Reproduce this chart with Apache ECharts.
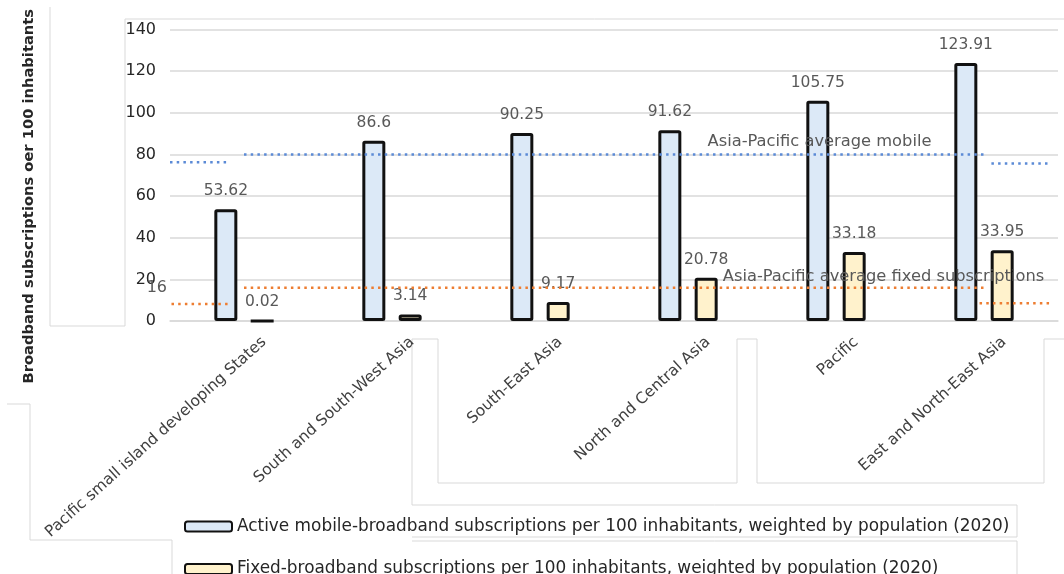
<!DOCTYPE html>
<html>
<head>
<meta charset="utf-8">
<title>Broadband subscriptions per 100 inhabitants, Asia-Pacific (2020)</title>
<script src="https://cdn.jsdelivr.net/npm/echarts@6/dist/echarts.min.js"></script>
<style>
  html, body { margin: 0; padding: 0; background: #ffffff; }
  #chart { width: 1064px; height: 574px; }
</style>
</head>
<body>
<div id="chart"></div>
<script>
// Sub-regions on the category axis
const categories = [
  'Pacific small island developing States',
  'South and South-West Asia',
  'South-East Asia',
  'North and Central Asia',
  'Pacific',
  'East and North-East Asia'
];

// Subscriptions per 100 inhabitants, weighted by population (2020)
const mobileValues = [53.62, 86.6, 90.25, 91.62, 105.75, 123.91];
const fixedValues = [0.02, 3.14, 9.17, 20.78, 33.18, 33.95];

// Asia-Pacific averages, plus the short stubs at either edge of the plot
const mobileAverage = 80;
const fixedAverage = 16;
const mobileAverageStubs = [76.2, 75.7];
const fixedAverageStubs = [8.2, 8.5];

// Value axis ticks
const yTicks = [0, 20, 40, 60, 80, 100, 120, 140];

const seriesNames = [
  'Active mobile-broadband subscriptions per 100 inhabitants, weighted by population (2020)',
  'Fixed-broadband subscriptions per 100 inhabitants, weighted by population (2020)'
];

const FONT = '"DejaVu Sans", "Open Sans", sans-serif';
const LABEL_GREY = '#595959';
const BLUE_DOTS = '#5b8ad6';
const ORANGE_DOTS = '#ed7d31';

const chart = echarts.init(document.getElementById('chart'), null, { renderer: 'canvas' });

const dotted = (color) => ({ color: color, width: 2.5, type: [2.5, 4.2], cap: 'butt' });

// Average line across the category centres, with captions on chosen points
function averageLine(name, value, color, captions) {
  return {
    name: name,
    type: 'line',
    xAxisIndex: 0,
    yAxisIndex: 0,
    z: 5,
    silent: true,
    symbol: 'circle',
    symbolSize: 0,
    showSymbol: true,
    lineStyle: dotted(color),
    itemStyle: { color: color },
    label: { show: false },
    data: categories.map((c, i) => captions[i]
      ? { value: value, label: Object.assign({ show: true, fontFamily: FONT, color: LABEL_GREY }, captions[i]) }
      : value)
  };
}

// Short stub segment drawn on the hidden continuous x axis
function stub(name, value, from, to, color) {
  return {
    name: name,
    type: 'line',
    xAxisIndex: 1,
    yAxisIndex: 0,
    z: 5,
    silent: true,
    symbol: 'none',
    lineStyle: dotted(color),
    data: [[from, value], [to, value]]
  };
}

// Faint frame lines around the plot, axis labels and legend
const frameStroke = { stroke: '#d9d9d9', lineWidth: 1, fill: null };
const framePaths = [
  [[125, 326], [125, 19], [1064, 19]],
  [[50, 7], [50, 326], [125, 326]],
  [[7, 404], [30, 404], [30, 540], [172, 540], [172, 574]],
  [[438, 339], [412, 339], [412, 505], [1017, 505], [1017, 537], [412, 537]],
  [[438, 339], [438, 483], [737, 483], [737, 339], [757, 339], [757, 483], [1044, 483], [1044, 339], [1064, 339]],
  [[412, 541], [1017, 541], [1017, 574]]
];

const option = {
  backgroundColor: '#ffffff',
  animation: false,
  textStyle: { fontFamily: FONT },
  graphic: framePaths.map(points => ({
    type: 'polyline',
    silent: true,
    z: -10,
    shape: { points: points },
    style: frameStroke
  })),
  legend: {
    data: seriesNames,
    orient: 'vertical',
    left: 184,
    top: 518,
    height: 70,
    padding: 0,
    itemWidth: 47,
    itemHeight: 10,
    itemGap: 25.5,
    icon: 'roundRect',
    selectedMode: false,
    textStyle: { fontFamily: FONT, fontSize: 16.9, color: '#262626', lineHeight: 16 }
  },
  grid: { left: 170, right: 6, top: 29.5, bottom: 253, containLabel: false },
  xAxis: [
    {
      type: 'category',
      data: categories,
      axisLine: { show: true, lineStyle: { color: '#d9d9d9', width: 1.5 } },
      axisTick: { show: false },
      axisLabel: {
        interval: 0,
        rotate: 42,
        margin: 37,
        padding: [0, -27, 0, 0],
        fontFamily: FONT,
        fontSize: 15.5,
        color: '#404040'
      }
    },
    { type: 'value', min: 0, max: categories.length, show: false }
  ],
  yAxis: {
    type: 'value',
    min: yTicks[0],
    max: yTicks[yTicks.length - 1],
    interval: yTicks[1] - yTicks[0],
    name: 'Broadband subscriptions oer 100 inhabitants',
    nameLocation: 'middle',
    nameRotate: 90,
    nameGap: 133,
    nameTextStyle: {
      fontFamily: FONT,
      fontSize: 14.7,
      fontWeight: 'bold',
      color: '#262626',
      padding: [0, 42, 0, 0]
    },
    axisLine: { show: false },
    axisTick: { show: false },
    splitLine: { lineStyle: { color: '#d9d9d9', width: 1.5 } },
    axisLabel: { margin: 14, fontFamily: FONT, fontSize: 16, color: '#262626' }
  },
  series: [
    {
      name: seriesNames[0],
      type: 'bar',
      z: 3,
      barWidth: 23,
      barGap: '58%',
      data: mobileValues,
      itemStyle: { color: '#dce9f7', borderColor: '#111111', borderWidth: 3, borderRadius: 1 },
      label: { show: true, position: 'top', distance: 10, fontFamily: FONT, fontSize: 15.5, color: LABEL_GREY }
    },
    {
      name: seriesNames[1],
      type: 'bar',
      z: 2,
      barWidth: 23,
      data: fixedValues,
      itemStyle: { color: '#fff2cc', borderColor: '#111111', borderWidth: 3, borderRadius: 1 },
      label: { show: true, position: 'top', distance: 10, fontFamily: FONT, fontSize: 15.5, color: LABEL_GREY }
    },
    averageLine('Asia-Pacific average mobile', mobileAverage, BLUE_DOTS, {
      4: { position: 'top', distance: 5, offset: [-16.5, 0], fontSize: 16.3, formatter: 'Asia-Pacific average mobile' }
    }),
    averageLine('Asia-Pacific average fixed subscriptions', fixedAverage, ORANGE_DOTS, {
      0: { position: 'left', distance: 77, fontSize: 16, formatter: '{c}' },
      4: { position: 'top', distance: 3, offset: [47.5, 0], fontSize: 16.3, formatter: 'Asia-Pacific average fixed subscriptions' }
    }),
    stub('mobile stub left', mobileAverageStubs[0], 0, 0.39, BLUE_DOTS),
    stub('mobile stub right', mobileAverageStubs[1], 5.55, 5.95, BLUE_DOTS),
    stub('fixed stub left', fixedAverageStubs[0], 0.01, 0.41, ORANGE_DOTS),
    stub('fixed stub right', fixedAverageStubs[1], 5.47, 5.96, ORANGE_DOTS)
  ]
};

chart.setOption(option);
</script>
</body>
</html>
